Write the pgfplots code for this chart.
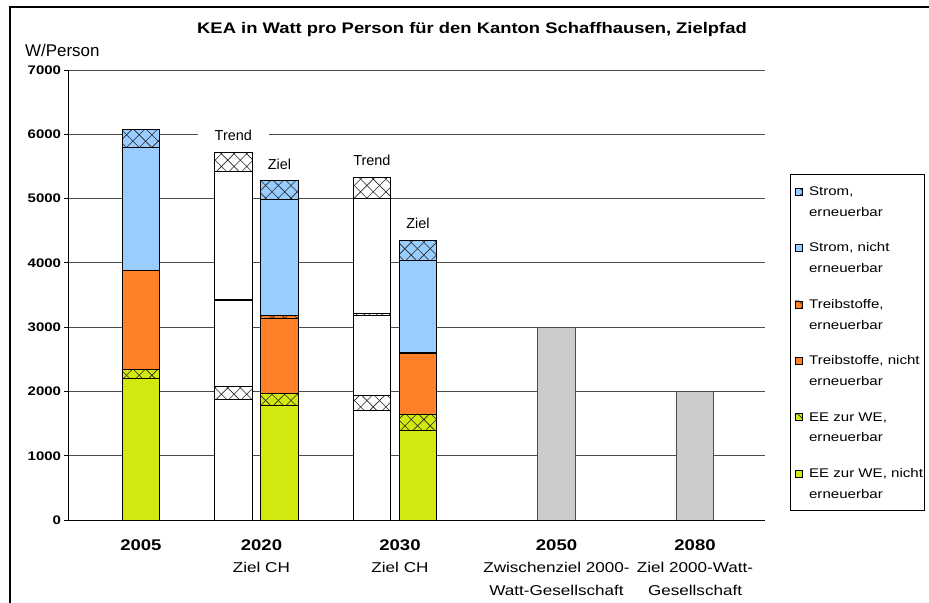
\documentclass[border=0pt]{standalone}
\usepackage{fontspec}
\setmainfont{Liberation Sans}
\newfontfamily\sfw[FakeStretch=1.2]{Liberation Sans}
\usepackage{pgfplots}
\pgfplotsset{compat=1.18}
\usetikzlibrary{patterns}
\definecolor{cblue}{RGB}{153,204,255}
\definecolor{corange}{RGB}{255,128,40}
\definecolor{cgreen}{RGB}{210,232,14}
\definecolor{cgrey}{RGB}{204,204,204}
\pgfdeclarepatternformonly{xhatch}{\pgfqpoint{-1pt}{-1pt}}{\pgfqpoint{13.7pt}{13.7pt}}{\pgfqpoint{12.7pt}{12.7pt}}{%
  \pgfsetlinewidth{0.6pt}%
  \pgfpathmoveto{\pgfqpoint{0pt}{0pt}}\pgfpathlineto{\pgfqpoint{12.7pt}{12.7pt}}%
  \pgfpathmoveto{\pgfqpoint{0pt}{12.7pt}}\pgfpathlineto{\pgfqpoint{12.7pt}{0pt}}%
  \pgfusepath{stroke}}
\tikzset{
  hatch/.style={postaction={pattern=xhatch, pattern color=black!85}},
  bb/.style={draw=black, line width=0.8bp},
}
\newcommand\lstrut{\rule[-3bp]{0pt}{13bp}}
\begin{document}
\begin{tikzpicture}
\path[use as bounding box] (0,0) rectangle (929bp,603bp);
\draw[line width=1.2bp] (10bp,-2bp) -- (10bp,596bp) -- (931bp,596bp);
\begin{axis}[
  at={(68.5bp,83bp)}, anchor=south west,
  scale only axis, width=696.5bp, height=450bp,
  xmin=-0.523, xmax=4.505, ymin=0, ymax=7000,
  ybar stacked, bar width=0.272,
  axis x line*=bottom, axis y line*=left,
  axis line style={-, line width=0.8bp, black},
  ytick={0,1000,...,7000},
  ymajorgrids, grid style={black!70, line width=0.9bp},
  tick align=outside, major tick length=4bp,
  ytick style={black, line width=0.8bp},
  xtick style={draw=none},
  xtick={0,0.87,1.87,3,4},
  xticklabels={{\fontsize{15.5}{22.5}\selectfont\bfseries 2005},
    {{\fontsize{15.5}{22.5}\selectfont\bfseries 2020}\\Ziel CH},
    {{\fontsize{15.5}{22.5}\selectfont\bfseries 2030}\\Ziel CH},
    {{\fontsize{15.5}{22.5}\selectfont\bfseries 2050}\\Zwischenziel 2000-\\Watt-Gesellschaft},
    {{\fontsize{15.5}{22.5}\selectfont\bfseries 2080}\\Ziel 2000-Watt-\\Gesellschaft}},
  xticklabel style={align=center, font=\sfw\fontsize{14.3}{22.5}\selectfont, yshift=-12bp},
  yticklabel style={font=\sfw\bfseries\fontsize{12.5}{14}\selectfont},
  /pgf/number format/assume math mode=true,
  /pgf/number format/1000 sep={},
  reverse legend,
  legend cell align=left,
  legend style={at={(1.0359,0.7689)}, anchor=north west, draw=black, line width=0.8bp,
    inner xsep=1bp, inner ysep=11bp, row sep=24bp,
    font=\sfw\fontsize{12.6}{21}\selectfont,
    nodes={align=left, inner xsep=0pt, inner ysep=0pt},
    /tikz/every odd column/.append style={column sep=7bp}},
  legend image code/.code={\path (0bp,0bp); \draw[#1, line width=0.6bp] (3bp,6.5bp) rectangle (10bp,13.5bp);},
]
% EE zur WE, nicht erneuerbar
\addplot[bb, fill=cgreen] coordinates {(0,2200) (0.667,0) (1,1780) (1.667,0) (2,1400) (3,0) (4,0)};
\addlegendentry{\lstrut EE zur WE, nicht\\\lstrut erneuerbar}
\addplot[bb, fill=white, forget plot] coordinates {(0,0) (0.667,1880) (1,0) (1.667,1710) (2,0) (3,0) (4,0)};
% EE zur WE, erneuerbar
\addplot[bb, fill=cgreen, hatch] coordinates {(0,140) (0.667,0) (1,190) (1.667,0) (2,250) (3,0) (4,0)};
\addlegendentry{\lstrut EE zur WE,\\\lstrut erneuerbar}
\addplot[bb, fill=white, hatch, forget plot] coordinates {(0,0) (0.667,200) (1,0) (1.667,225) (2,0) (3,0) (4,0)};
% Treibstoffe, nicht erneuerbar
\addplot[bb, fill=corange] coordinates {(0,1550) (0.667,0) (1,1165) (1.667,0) (2,940) (3,0) (4,0)};
\addlegendentry{\lstrut Treibstoffe, nicht\\\lstrut erneuerbar}
\addplot[bb, fill=white, forget plot] coordinates {(0,0) (0.667,1340) (1,0) (1.667,1240) (2,0) (3,0) (4,0)};
% Treibstoffe, erneuerbar
\addplot[bb, fill=corange, hatch] coordinates {(0,0) (0.667,0) (1,50) (1.667,0) (2,20) (3,0) (4,0)};
\addlegendentry{\lstrut Treibstoffe,\\\lstrut erneuerbar}
\addplot[bb, fill=white, hatch, forget plot] coordinates {(0,0) (0.667,15) (1,0) (1.667,40) (2,0) (3,0) (4,0)};
% Strom, nicht erneuerbar
\addplot[bb, fill=cblue] coordinates {(0,1900) (0.667,0) (1,1805) (1.667,0) (2,1435) (3,0) (4,0)};
\addlegendentry{\lstrut Strom, nicht\\\lstrut erneuerbar}
\addplot[bb, fill=white, forget plot] coordinates {(0,0) (0.667,1995) (1,0) (1.667,1780) (2,0) (3,0) (4,0)};
% Strom, erneuerbar
\addplot[bb, fill=cblue, hatch] coordinates {(0,290) (0.667,0) (1,285) (1.667,0) (2,310) (3,0) (4,0)};
\addlegendentry{\lstrut Strom,\\\lstrut erneuerbar}
\addplot[bb, fill=white, hatch, forget plot] coordinates {(0,0) (0.667,285) (1,0) (1.667,330) (2,0) (3,0) (4,0)};
% Zielwerte 2000-Watt
\addplot[draw=black!70, line width=0.8bp, fill=cgrey, forget plot] coordinates {(0,0) (0.667,0) (1,0) (1.667,0) (2,0) (3,3000) (4,2000)};
\node[font=\fontsize{14.5}{16}\selectfont, fill=white, inner xsep=17bp, inner ysep=1bp, yshift=17bp] at (axis cs:0.667,5715) {Trend};
\node[font=\fontsize{14.5}{16}\selectfont, yshift=17bp] at (axis cs:1,5275) {Ziel};
\node[font=\fontsize{14.5}{16}\selectfont, yshift=17bp] at (axis cs:1.667,5325) {Trend};
\node[font=\fontsize{14.5}{16}\selectfont, yshift=17bp] at (axis cs:2,4355) {Ziel};
\end{axis}
\node[font=\sfw\bfseries\fontsize{15.4}{18}\selectfont] at (472bp,573bp) {KEA in Watt pro Person für den Kanton Schaffhausen, Zielpfad};
\node[anchor=west, inner sep=0pt, font=\fontsize{17}{20}\selectfont] at (25bp,553bp) {W/Person};
\end{tikzpicture}
\end{document}
